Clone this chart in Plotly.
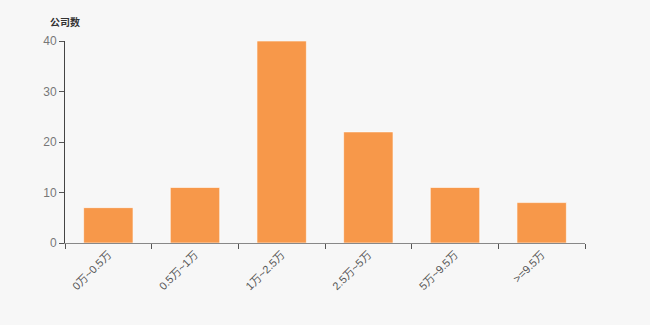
import plotly.graph_objects as go

categories = ["0万~0.5万", "0.5万~1万", "1万~2.5万", "2.5万~5万", "5万~9.5万", ">=9.5万"]
counts = [7, 11, 40, 22, 11, 8]
y_ticks = [0, 10, 20, 30, 40]

fig = go.Figure(go.Bar(
    x=categories, y=counts,
    marker=dict(color="#f7984a", line=dict(color="rgba(255,255,255,0.6)", width=1)),
    width=0.57,
))

font_family = "Liberation Sans, Arial, Noto Sans CJK SC, sans-serif"
fig.update_layout(
    width=650, height=325,
    margin=dict(l=65, r=65, t=41, b=82),
    paper_bgcolor="#f7f7f7", plot_bgcolor="#f7f7f7",
    font=dict(family=font_family, color="#666666", size=11),
    showlegend=False,
    xaxis=dict(
        showline=True, linecolor="#888888", linewidth=1,
        ticks="outside", tickson="boundaries", ticklen=5, tickcolor="#555555",
        tickangle=-45, tickfont=dict(size=11, color="#555555"),
        showgrid=False, zeroline=False,
    ),
    yaxis=dict(
        range=[0, 40], tickvals=y_ticks,
        showline=True, linecolor="#444444", linewidth=1,
        ticks="outside", ticklen=5, tickcolor="#555555",
        tickfont=dict(size=12, color="#777777"),
        showgrid=False, zeroline=False,
    ),
    annotations=[dict(
        text="<b>公司数</b>", xref="paper", yref="paper", x=0, y=1,
        xanchor="center", yanchor="bottom", yshift=11, showarrow=False,
        font=dict(size=10, color="#333333", family=font_family),
    )],
)

fig.write_html("out.html")
